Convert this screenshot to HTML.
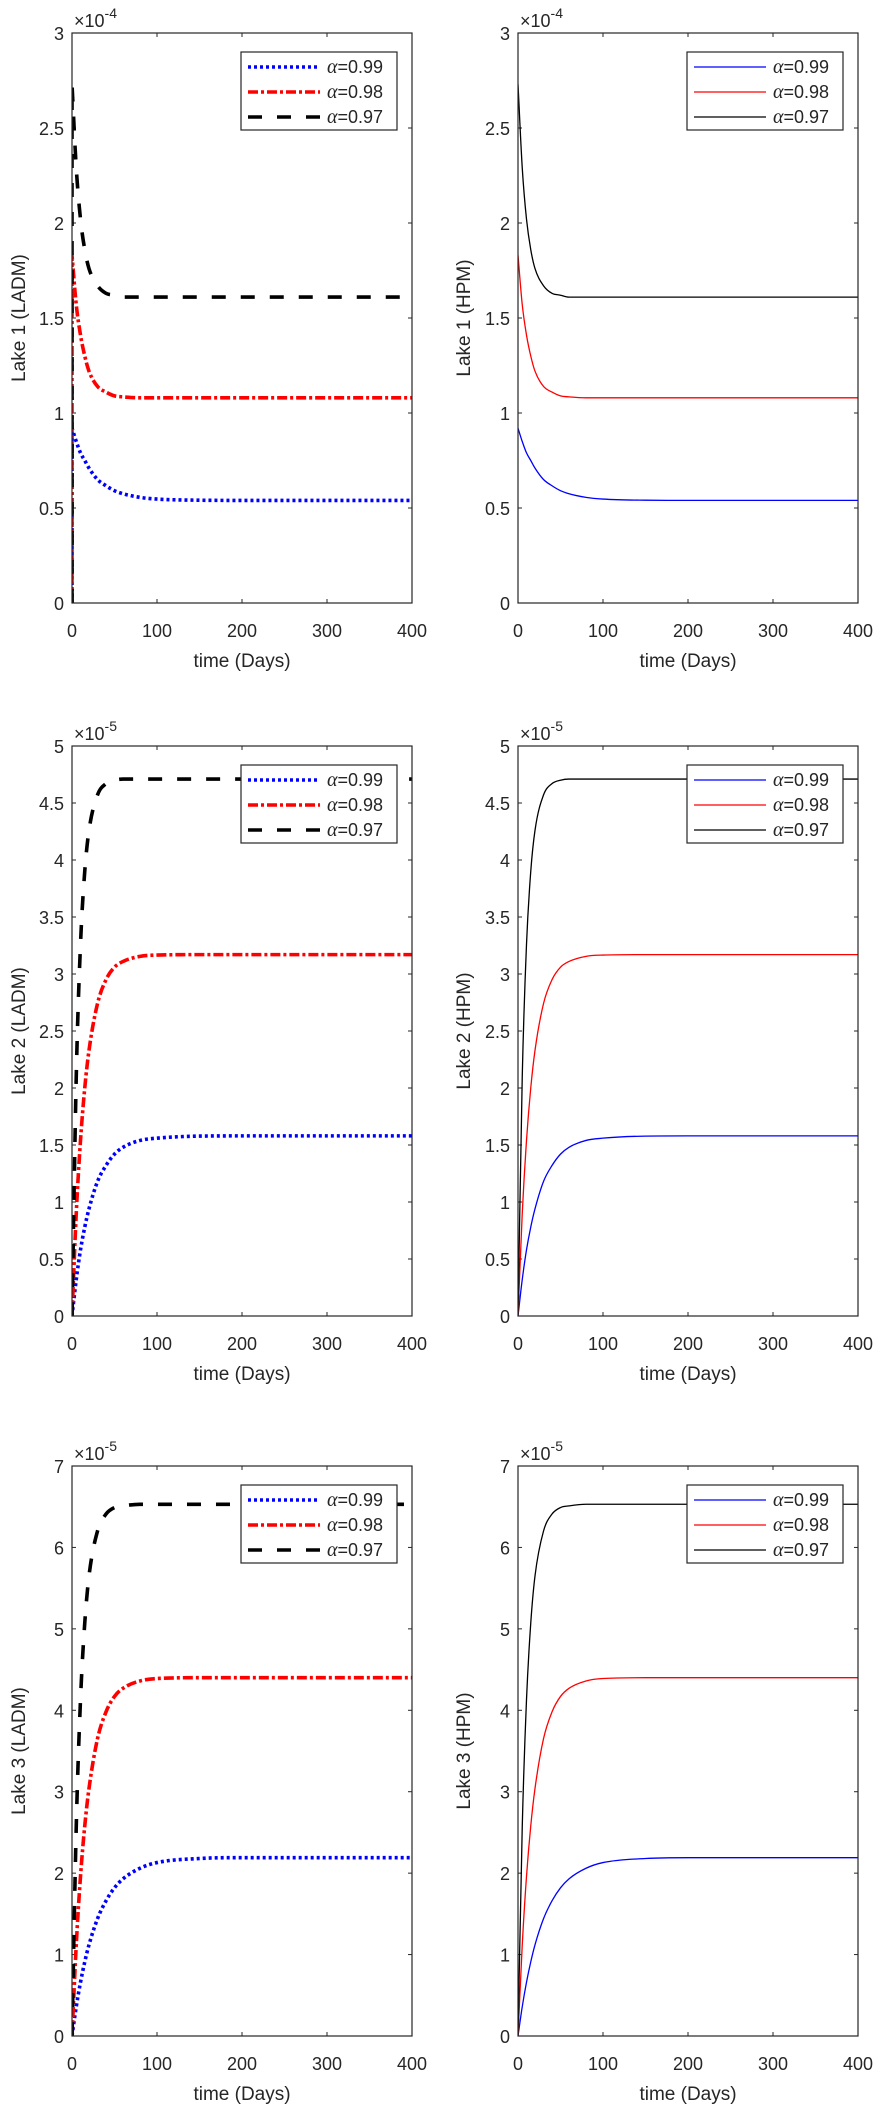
<!DOCTYPE html>
<html><head><meta charset="utf-8">
<style>
html,body{margin:0;padding:0;background:#fff;}
svg{display:block;}
text{font-family:"Liberation Sans",sans-serif;fill:#262626;}
</style></head>
<body>
<svg id="fig" width="880" height="2105" viewBox="0 0 880 2105" xmlns="http://www.w3.org/2000/svg"></svg>
<script>
// ---- data ----
const times = [0,5,10,15,20,30,40,50,60,80,100,150,200,400];
const xTicks = [0,100,200,300,400];
const lake1Blue  = [0.92,0.85,0.79,0.75,0.71,0.65,0.617,0.591,0.575,0.556,0.547,0.541,0.54,0.54];
const lake1Red   = [1.83,1.57,1.41,1.30,1.22,1.14,1.11,1.09,1.085,1.08,1.08,1.08,1.08,1.08];
const lake1Black = [2.73,2.29,2.02,1.86,1.76,1.67,1.63,1.62,1.61,1.61,1.61,1.61,1.61,1.61];
const lake2Blue  = [0,0.32,0.58,0.78,0.94,1.18,1.32,1.42,1.48,1.54,1.56,1.578,1.58,1.58];
const lake2Red   = [0,0.90,1.54,2.00,2.33,2.74,2.95,3.06,3.11,3.155,3.166,3.17,3.17,3.17];
const lake2Black = [0,2.10,3.26,3.90,4.26,4.57,4.67,4.70,4.71,4.71,4.71,4.71,4.71,4.71];
const lake3Blue  = [0,0.36,0.66,0.91,1.12,1.44,1.66,1.82,1.93,2.06,2.13,2.18,2.19,2.19];
const lake3Red   = [0,1.12,1.96,2.58,3.04,3.65,3.98,4.17,4.27,4.36,4.39,4.40,4.40,4.40];
const lake3Black = [0,2.57,4.13,5.07,5.65,6.20,6.41,6.49,6.51,6.53,6.53,6.53,6.53,6.53];
const lake1Ticks = ["0","0.5","1","1.5","2","2.5","3"];
const lake2Ticks = ["0","0.5","1","1.5","2","2.5","3","3.5","4","4.5","5"];
const lake3Ticks = ["0","1","2","3","4","5","6","7"];
const legendLabels = ["0.99","0.98","0.97"];

const NS="http://www.w3.org/2000/svg";
const svg=document.getElementById('fig');
function mk(tag,attrs,parent){const e=document.createElementNS(NS,tag);for(const k in attrs)e.setAttribute(k,attrs[k]);(parent||svg).appendChild(e);return e;}

// monotone cubic path through pixel points
function smoothPath(pts){
  const n=pts.length; if(n<2)return '';
  const dx=[],dy=[],m=[],s=[];
  for(let i=0;i<n-1;i++){dx[i]=pts[i+1][0]-pts[i][0];dy[i]=pts[i+1][1]-pts[i][1];s[i]=dx[i]===0?0:dy[i]/dx[i];}
  m[0]=s[0];m[n-1]=s[n-2];
  for(let i=1;i<n-1;i++){m[i]=(s[i-1]*s[i]<=0||dx[i-1]===0||dx[i]===0)?0:(s[i-1]+s[i])/2;}
  for(let i=0;i<n-1;i++){if(s[i]===0){m[i]=0;m[i+1]=0;continue;}const a=m[i]/s[i],b=m[i+1]/s[i],h=a*a+b*b;if(h>9){const t=3/Math.sqrt(h);m[i]=t*a*s[i];m[i+1]=t*b*s[i];}}
  let d='M'+pts[0][0].toFixed(2)+','+pts[0][1].toFixed(2);
  for(let i=0;i<n-1;i++){
    if(dx[i]===0){d+=' L'+pts[i+1][0].toFixed(2)+','+pts[i+1][1].toFixed(2);continue;}
    const h=dx[i]/3;
    d+=' C'+(pts[i][0]+h).toFixed(2)+','+(pts[i][1]+m[i]*h).toFixed(2)+' '+(pts[i+1][0]-h).toFixed(2)+','+(pts[i+1][1]-m[i+1]*h).toFixed(2)+' '+pts[i+1][0].toFixed(2)+','+pts[i+1][1].toFixed(2);
  }
  return d;
}

const rows=[
 {top:33,bottom:603,ymax:3,exp:"-4",ticks:lake1Ticks,series:[lake1Blue,lake1Red,lake1Black],lake:1,startZero:true},
 {top:746,bottom:1316,ymax:5,exp:"-5",ticks:lake2Ticks,series:[lake2Blue,lake2Red,lake2Black],lake:2,startZero:false},
 {top:1466,bottom:2036,ymax:7,exp:"-5",ticks:lake3Ticks,series:[lake3Blue,lake3Red,lake3Black],lake:3,startZero:false}
];
const cols=[{left:72,right:412,method:"LADM",thick:true,labelX:18},{left:518,right:858,method:"HPM",thick:false,labelX:463}];
const colors=["#0000ff","#ff0000","#000000"];
const dashes=["3,3","10,3,3,3","14,15"];

rows.forEach((r,ri)=>{cols.forEach((c,ci)=>{
  const g=mk('g',{});
  
  
  const xs=t=>c.left+(t/400)*(c.right-c.left);
  const ys=v=>r.bottom-(v/r.ymax)*(r.bottom-r.top);
  xTicks.forEach(t=>{
    const x=xs(t);
    mk('line',{x1:x,x2:x,y1:r.bottom,y2:r.bottom-4,stroke:'#262626','stroke-width':1},g);
    mk('line',{x1:x,x2:x,y1:r.top,y2:r.top+4,stroke:'#262626','stroke-width':1},g);
    const tx=mk('text',{x:x,y:r.bottom+34,'text-anchor':'middle','font-size':18},g);
    tx.textContent=t;
    
    
  });
  r.ticks.forEach(lbl=>{
    const y=ys(parseFloat(lbl));
    mk('line',{x1:c.left,x2:c.left+4,y1:y,y2:y,stroke:'#262626','stroke-width':1},g);
    mk('line',{x1:c.right,x2:c.right-4,y1:y,y2:y,stroke:'#262626','stroke-width':1},g);
    const ty=mk('text',{x:c.left-8,y:y+7,'text-anchor':'end','font-size':18},g);
    ty.textContent=lbl;
    
    
  });
  const ex=mk('text',{x:c.left+2,y:r.top-6,'font-size':18},g);
  
  
  ex.innerHTML='\u00d710<tspan dy="-9" font-size="14">'+r.exp+'</tspan>';
  const clip='clip'+ri+ci;
  const cp=mk('clipPath',{id:clip},g);
  mk('rect',{x:c.left,y:r.top-3,width:c.right-c.left,height:r.bottom-r.top+3},cp);
  [0,1,2].forEach(si=>{
    const vals=r.series[si];
    let pts=[];
    times.forEach((t,i)=>pts.push([xs(t),ys(vals[i])]));
    let d=smoothPath(pts);
    if(c.thick&&r.startZero){d='M'+xs(0).toFixed(2)+','+ys(0).toFixed(2)+' L'+d.slice(1);}
    const attrs={d:d,fill:'none',stroke:colors[si],'stroke-width':c.thick?3.6:1.3,'clip-path':'url(#'+clip+')','stroke-linejoin':'round'};
    if(c.thick)attrs['stroke-dasharray']=dashes[si];
    const p=mk('path',attrs,g);
    
    
  });
  const fr=mk('rect',{x:c.left,y:r.top,width:c.right-c.left,height:r.bottom-r.top,fill:'none',stroke:'#262626','stroke-width':1.2},g);
  
  
  const lg=mk('g',{},g);
  
  
  const lx=c.left+169, ly=r.top+19;
  mk('rect',{x:lx,y:ly,width:156,height:78,fill:'#fff',stroke:'#262626','stroke-width':1.2},lg);
  legendLabels.forEach((lab,si)=>{
    const yy=ly+15+si*25;
    const la={x1:lx+7,x2:lx+79,y1:yy,y2:yy,stroke:colors[si],'stroke-width':c.thick?3.6:1.3};
    if(c.thick)la['stroke-dasharray']=dashes[si];
    mk('line',la,lg);
    const t=mk('text',{x:lx+86,y:yy+6,'font-size':18},lg);
    
    
    t.innerHTML='<tspan font-family="Liberation Serif, serif" font-style="italic" font-size="20">\u03b1</tspan>=' + lab;
  });
  const xl=mk('text',{x:(c.left+c.right)/2,y:r.bottom+64,'text-anchor':'middle','font-size':19},g);
  xl.textContent='time (Days)';
  
  
  const cy=(r.top+r.bottom)/2;
  const yl=mk('text',{x:c.labelX,y:cy,'text-anchor':'middle','font-size':19,transform:'rotate(-90 '+c.labelX+' '+cy+') translate(0 7)'},g);
  yl.textContent='Lake '+r.lake+' ('+c.method+')';
  
  
});});
</script>
</body></html>
